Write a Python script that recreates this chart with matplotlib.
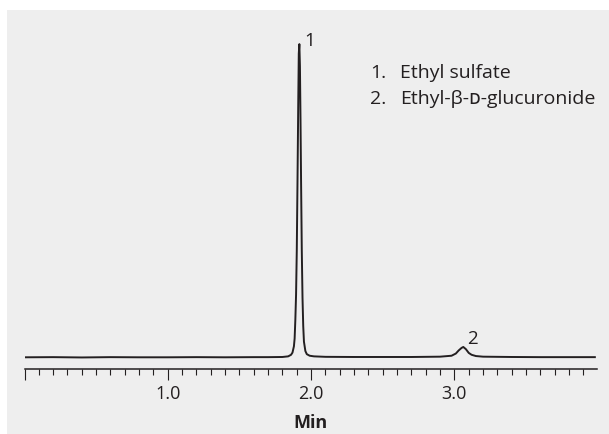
import matplotlib
matplotlib.use('Agg')
import matplotlib.pyplot as plt
from matplotlib.patches import Rectangle

plt.rcParams['font.family'] = ['Open Sans', 'DejaVu Sans']

# chromatogram trace (time in min, relative signal)
time = [0.00, 0.20, 0.40, 0.60, 0.80, 1.00, 1.20, 1.40, 1.60, 1.70, 1.80, 1.84,
        1.86, 1.87, 1.88, 1.885, 1.89, 1.895, 1.90, 1.905, 1.91, 1.914, 1.918,
        1.922, 1.926, 1.93, 1.935, 1.94, 1.945, 1.95, 1.96, 1.97, 1.99, 2.02,
        2.10, 2.30, 2.50, 2.70, 2.90, 2.98, 3.01, 3.03, 3.05, 3.062, 3.08, 3.10,
        3.12, 3.15, 3.20, 3.40, 3.60, 3.80, 3.98]
signal = [0.0, 0.05, -0.05, 0.05, 0.0, 0.0, 0.05, 0.0, 0.05, 0.05, 0.1, 0.3,
          0.8, 1.5, 3.5, 6.0, 12.0, 20.0, 34.0, 56.0, 80.0, 97.0, 100.0,
          93.0, 76.0, 56.0, 34.0, 19.0, 10.0, 5.0, 2.0, 1.0, 0.5, 0.3,
          0.15, 0.1, 0.1, 0.1, 0.2, 0.5, 1.2, 2.2, 3.0, 3.3, 2.6, 1.4,
          0.8, 0.4, 0.2, 0.1, 0.05, 0.05, 0.05]

peak_labels = ['1', '2']
peak_label_pos = [(1.955, 101.0), (3.09, 5.8)]
legend_lines = ['Ethyl sulfate', 'Ethyl-β-ᴅ-glucuronide']
major_ticks = [0.0, 1.0, 2.0, 3.0]
major_labels = ['', '1.0', '2.0', '3.0']
minor_ticks = [i / 10 for i in range(40)]

ink = '#231f20'
W, H = 609, 434

fig = plt.figure(figsize=(6.09, 4.34), dpi=100)
fig.patch.set_facecolor('white')
fig.patches.append(Rectangle((7 / W, 0), 1, 1 - 10 / H, transform=fig.transFigure,
                             facecolor='#eeeeee', edgecolor='none', zorder=-5))

ax = fig.add_axes([24.5 / W, 65.3 / H, 572.5 / W, 348.7 / H])
ax.set_zorder(2)
ax.set_facecolor('none')
ax.plot(time, signal, color=ink, lw=1.4, solid_joinstyle='round')
ax.set_xlim(0, 3.995)
ax.set_ylim(-3.64, 107.7)

for s in ['top', 'left', 'right']:
    ax.spines[s].set_visible(False)
ax.spines['bottom'].set_linewidth(1.1)
ax.spines['bottom'].set_color(ink)
ax.set_yticks([])
ax.set_xticks(major_ticks)
ax.set_xticklabels(major_labels)
ax.set_xticks(minor_ticks, minor=True)
ax.tick_params(axis='x', which='major', length=8, width=0.8, color=ink,
               labelsize=13, labelcolor=ink, pad=4)
ax.tick_params(axis='x', which='minor', length=4.5, width=0.8, color=ink)
ax.set_xlabel('Min', fontsize=13, fontweight='bold', color=ink, labelpad=8)

for lab, (x, y) in zip(peak_labels, peak_label_pos):
    ax.text(x, y, lab, fontsize=13.5, color=ink, ha='left', va='center')

for i, name in enumerate(legend_lines):
    y = 1 - (78 + 26 * i) / H
    fig.text(370 / W, y, f'{i + 1}.', fontsize=14, color=ink, va='baseline')
    fig.text(400 / W, y, name, fontsize=14, color=ink, va='baseline')

fig.savefig('out.png', dpi=100)
